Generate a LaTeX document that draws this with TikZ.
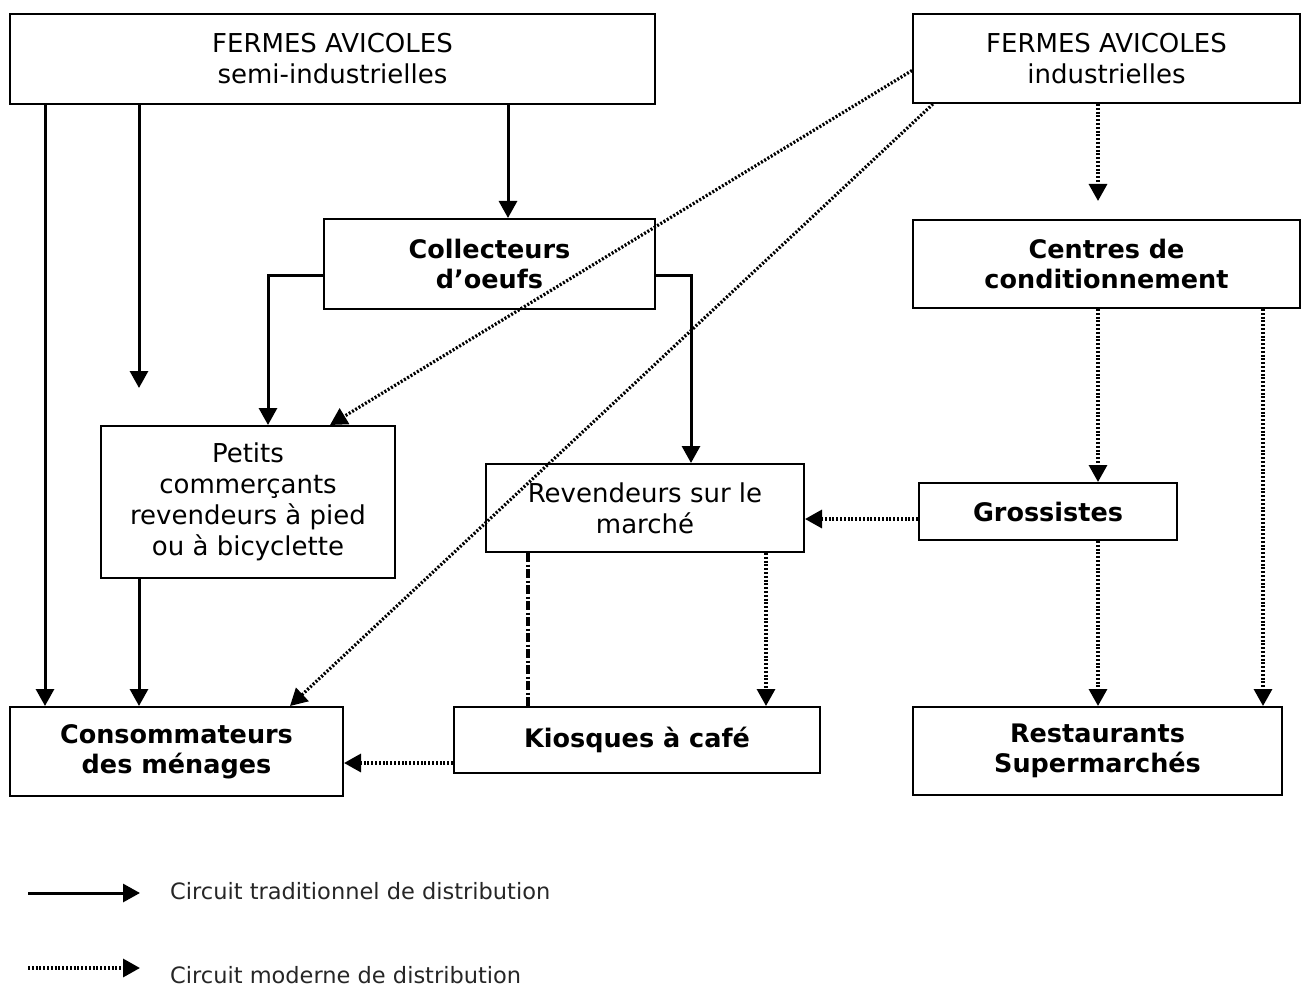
\documentclass[tikz,border=0pt]{standalone}
\usepackage{fontspec}
\setmainfont{DejaVu Sans}
\usetikzlibrary{arrows.meta}
\begin{document}
\begin{tikzpicture}[x=1pt,y=-1pt,
  box/.style={draw, line width=2pt, align=center, inner sep=0pt,
    font=\fontsize{26}{31}\selectfont},
  bbox/.style={box, font=\fontsize{25.5}{30}\selectfont\bfseries},
  trad/.style={line width=3pt, -{Triangle[width=18pt,length=17pt]}},
  mod/.style={line width=3.2pt, dash pattern=on 2pt off 1.8pt, -{Triangle[width=18pt,length=17pt]}},
  dashdotline/.style={line width=3.2pt, dash pattern=on 9pt off 2.5pt on 2pt off 2.5pt},
  legtext/.style={anchor=west, inner sep=0pt, text=black!85, font=\fontsize{22.5}{26}\selectfont}]
\useasboundingbox (0,0) rectangle (1309,987);

% boxes
\node[box, minimum width=645pt, minimum height=90pt] (FS) at (332.5,59) {FERMES AVICOLES\\semi-industrielles};
\node[box, minimum width=387pt, minimum height=89pt] (FI) at (1106.5,58.5) {FERMES AVICOLES\\industrielles};
\node[bbox, minimum width=331pt, minimum height=90pt] (Coll) at (489.5,264) {Collecteurs\\d’oeufs};
\node[bbox, minimum width=387pt, minimum height=88pt] (Cent) at (1106.5,264) {Centres de\\conditionnement};
\node[box, minimum width=294pt, minimum height=152pt] (Pet) at (248,502) {Petits\\commerçants\\revendeurs à pied\\ou à bicyclette};
\node[box, minimum width=318pt, minimum height=88pt] (Rev) at (645,508) {Revendeurs sur le\\marché};
\node[bbox, minimum width=258pt, minimum height=57pt] (Gro) at (1048,511.5) {Grossistes};
\node[bbox, minimum width=333pt, minimum height=89pt] (Cons) at (176.5,751.5) {Consommateurs\\des ménages};
\node[bbox, minimum width=366pt, minimum height=66pt] (Kio) at (637,740) {Kiosques à café};
\node[bbox, minimum width=369pt, minimum height=88pt] (Rest) at (1097.5,751) {Restaurants\\Supermarchés};

% helper x-positions
\coordinate (x45) at (45,0);
\coordinate (x139) at (139,0);
\coordinate (x268) at (268,0);
\coordinate (x290) at (290,0);
\coordinate (x330) at (330,0);
\coordinate (x508) at (508,0);
\coordinate (x528) at (528,0);
\coordinate (x691) at (691,0);
\coordinate (x766) at (766,0);
\coordinate (x933) at (933,0);
\coordinate (x1098) at (1098,0);
\coordinate (x1263) at (1263,0);
\coordinate (free139) at (139,388);
\coordinate (free1098) at (1098,201);

% traditional circuit
\draw[trad] (FS.south -| x45) -- (Cons.north -| x45);
\draw[trad] (FS.south -| x139) -- (free139);
\draw[trad] (FS.south -| x508) -- (Coll.north -| x508);
\draw[trad] ([yshift=-11pt]Coll.west) -| (Pet.north -| x268);
\draw[trad] ([yshift=-11pt]Coll.east) -| (Rev.north -| x691);
\draw[trad] (Pet.south -| x139) -- (Cons.north -| x139);

% modern circuit
\draw[mod] ([yshift=-12pt]FI.west) -- (Pet.north -| x330);
\draw[mod] (FI.south -| x933) -- (Cons.north -| x290);
\draw[mod] (FI.south -| x1098) -- (free1098);
\draw[mod] (Cent.south -| x1098) -- (Gro.north -| x1098);
\draw[mod] (Cent.south -| x1263) -- (Rest.north -| x1263);
\draw[mod] ([yshift=-7.5pt]Gro.west) -- ([yshift=-7.5pt]Gro.west -| Rev.east);
\draw[mod] (Gro.south -| x1098) -- (Rest.north -| x1098);
\draw[mod] (Rev.south -| x766) -- (Kio.north -| x766);
\draw[mod] ([yshift=-23pt]Kio.west) -- ([yshift=-23pt]Kio.west -| Cons.east);
\draw[dashdotline] (Rev.south -| x528) -- (Kio.north -| x528);

% legend
\coordinate (la1) at (28,893);
\coordinate (lb1) at (140,893);
\coordinate (la2) at (28,968);
\coordinate (lb2) at (140,968);
\draw[trad] (la1) -- (lb1);
\draw[mod] (la2) -- (lb2);
\node[legtext] (lt1) at (170,891) {Circuit traditionnel de distribution};
\node[legtext] (lt2) at (170,975) {Circuit moderne de distribution};
\end{tikzpicture}
\end{document}
